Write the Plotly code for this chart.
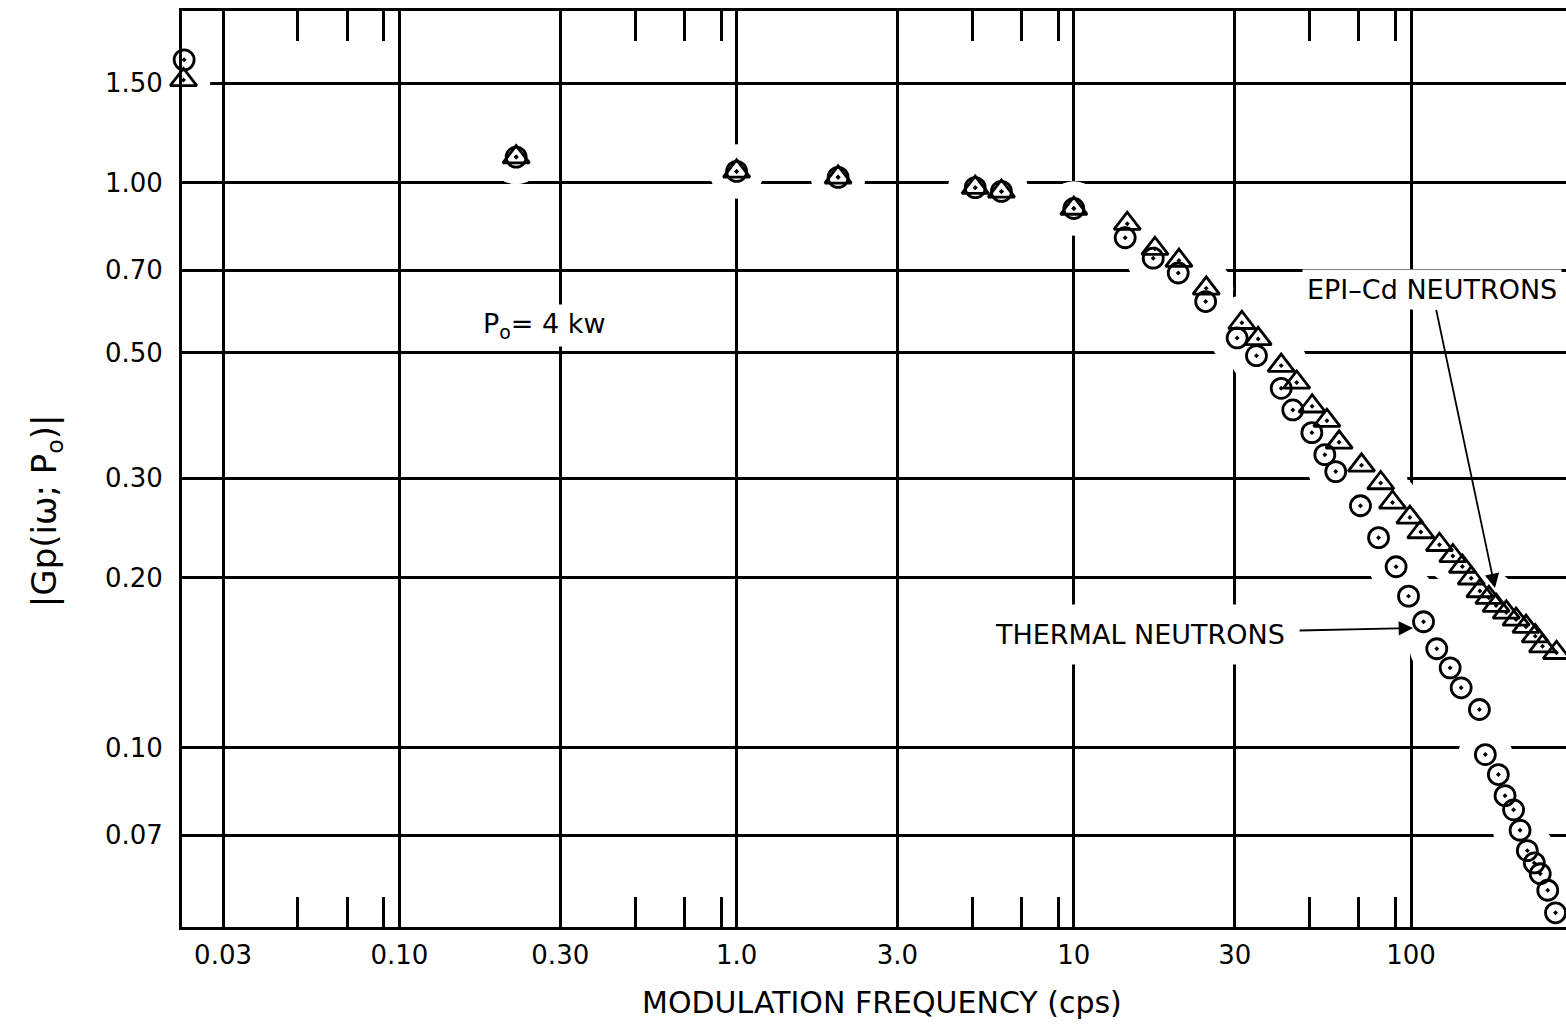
import plotly.graph_objects as go

# ---------------- data ----------------
thermal_freq = [0.023, 0.222, 1.0, 2.0, 5.1, 6.1, 10.0, 14.2, 17.2, 20.4, 24.6,
                30.5, 34.8, 41.2, 44.6, 50.8, 55.5, 59.8, 70.8, 80.1, 90.3, 98.3,
                108.9, 119.2, 130.6, 140.8, 159.5, 166.1, 181.5, 190.0, 201.4, 210.5,
                221.2, 232.0, 241.6, 254.3, 268.2]
thermal_gain = [1.65, 1.11, 1.047, 1.022, 0.98, 0.965, 0.90, 0.799, 0.735, 0.692, 0.616,
                0.531, 0.494, 0.4325, 0.396, 0.361, 0.330, 0.308, 0.268, 0.2353, 0.209, 0.1854,
                0.167, 0.1496, 0.1384, 0.1276, 0.1168, 0.0972, 0.0896, 0.0822, 0.0776, 0.0714,
                0.0657, 0.0625, 0.0598, 0.0559, 0.0510]

epi_freq = [0.0229, 0.222, 1.0, 2.0, 5.1, 6.1, 10.0, 14.4, 17.4, 20.5, 24.7,
            31.5, 35.2, 41.2, 45.8, 50.9, 56.3, 61.2, 71.3, 81.3, 88.1, 99.2,
            106.9, 121.4, 133.0, 142.0, 150.8, 160.0, 170.1, 178.7, 191.6, 204.8,
            219.2, 233.5, 245.4, 270.0]
epi_gain = [1.52, 1.11, 1.047, 1.022, 0.98, 0.965, 0.90, 0.846, 0.764, 0.728, 0.650,
            0.565, 0.529, 0.4744, 0.443, 0.402, 0.379, 0.347, 0.316, 0.294, 0.2716, 0.2555,
            0.2408, 0.2286, 0.2184, 0.2092, 0.1994, 0.1893, 0.1842, 0.1784, 0.1735, 0.1686,
            0.1637, 0.1575, 0.1512, 0.1472]

x_tick_vals = [0.03, 0.1, 0.3, 1, 3, 10, 30, 100]
x_tick_text = ["0.03", "0.10", "0.30", "1.0", "3.0", "10", "30", "100"]
x_minor_vals = [0.05, 0.07, 0.09, 0.5, 0.7, 0.9, 5, 7, 9, 50, 70, 90]
y_tick_vals = [0.07, 0.1, 0.2, 0.3, 0.5, 0.7, 1.0, 1.5]
y_tick_text = ["0.07", "0.10", "0.20", "0.30", "0.50", "0.70", "1.00", "1.50"]

FONT = "DejaVu Sans"

fig = go.Figure()

# white halos that interrupt the grid around the data points (as in the drawing)
for fx, gy in [(thermal_freq, thermal_gain), (epi_freq, epi_gain)]:
    fig.add_trace(go.Scatter(x=fx, y=gy, mode="markers",
                             marker=dict(symbol="circle", size=54, color="white",
                                         line=dict(width=0)),
                             hoverinfo="skip", showlegend=False))

fig.add_trace(go.Scatter(x=thermal_freq, y=thermal_gain, mode="markers",
                         name="Thermal neutrons", cliponaxis=False,
                         marker=dict(symbol="circle-open-dot", size=20, color="black",
                                     line=dict(width=2.8, color="black"))))
fig.add_trace(go.Scatter(x=epi_freq, y=epi_gain, mode="markers",
                         name="Epi-Cd neutrons", cliponaxis=False,
                         marker=dict(symbol="triangle-up-open-dot", size=23, color="black",
                                     line=dict(width=2.8, color="black"))))

fig.update_layout(
    width=1566, height=1027,
    margin=dict(l=182, r=0, t=11, b=100),
    plot_bgcolor="white", paper_bgcolor="white",
    showlegend=False,
    font=dict(family=FONT, color="black"),
)

fig.update_xaxes(
    type="log", range=[-1.6446, 2.4595],
    tickvals=x_tick_vals, ticktext=x_tick_text, ticks="",
    tickfont=dict(size=26, family=FONT), ticklabelstandoff=3,
    showgrid=True, gridcolor="black", gridwidth=2.6,
    showline=True, linecolor="black", linewidth=3, mirror="ticks",
    zeroline=False,
    minor=dict(tickvals=x_minor_vals, ticks="inside", ticklen=30,
               tickwidth=2.5, tickcolor="black", showgrid=False),
)
fig.update_yaxes(
    type="log", range=[-1.3176, 0.3039],
    tickvals=y_tick_vals, ticktext=y_tick_text, ticks="",
    tickfont=dict(size=26, family=FONT), ticklabelstandoff=11,
    showgrid=True, gridcolor="black", gridwidth=2.6,
    showline=True, linecolor="black", linewidth=3, mirror=False,
    zeroline=False,
)

ann_font = dict(family=FONT, size=27, color="black")

# P0 label
fig.add_annotation(xref="paper", yref="paper", x=0.2616, y=0.6572,
                   xanchor="center", yanchor="middle",
                   text="P<sub>o</sub>= 4 kw", showarrow=False,
                   font=dict(family=FONT, size=27, color="black"),
                   bgcolor="white", borderpad=3)

# series labels with arrows (x, y = arrow tip; ax, ay = text centre offset)
fig.add_annotation(xref="paper", yref="paper", x=0.9487, y=0.3701,
                   text="EPI–Cd NEUTRONS", font=ann_font,
                   bgcolor="white", borderpad=4,
                   showarrow=True, ax=-63, ay=-298, arrowhead=2, arrowsize=1.6,
                   arrowwidth=1.8, arrowcolor="black", standoff=0)
fig.add_annotation(xref="paper", yref="paper", x=0.8895, y=0.3264,
                   text="THERMAL NEUTRONS", font=ann_font,
                   bgcolor="white", borderpad=14,
                   showarrow=True, ax=-273, ay=6, arrowhead=2, arrowsize=1.6,
                   arrowwidth=1.8, arrowcolor="black", standoff=0)

# axis titles
fig.add_annotation(xref="paper", yref="paper", x=0.5058, y=-0.0819,
                   xanchor="center", yanchor="middle",
                   text="MODULATION FREQUENCY (cps)", showarrow=False,
                   font=dict(family=FONT, size=30, color="black"))
fig.add_annotation(xref="paper", yref="paper", x=-0.0983, y=0.455,
                   xanchor="center", yanchor="middle",
                   text="|Gp(iω; P<sub>o</sub>)|", textangle=-90, showarrow=False,
                   font=dict(family=FONT, size=34, color="black"))

fig.write_html("out.html")
